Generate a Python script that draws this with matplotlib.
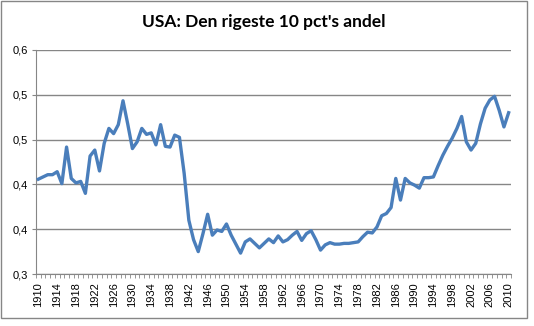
import numpy as np
import matplotlib.pyplot as plt
from matplotlib.patches import Rectangle

# andel af samlet indkomst til de rigeste 10 pct, USA 1910-2010
years = np.arange(1910, 2011)
share = [0.427, 0.430, 0.433, 0.433, 0.437, 0.421, 0.470, 0.428, 0.422, 0.424,
         0.408, 0.458, 0.466, 0.438, 0.475, 0.495, 0.488, 0.500, 0.532, 0.501,
         0.468, 0.477, 0.495, 0.487, 0.489, 0.473, 0.500, 0.471, 0.470, 0.486,
         0.483, 0.435, 0.372, 0.346, 0.330, 0.354, 0.380, 0.352, 0.359, 0.357,
         0.367, 0.352, 0.340, 0.328, 0.343, 0.347, 0.341, 0.335, 0.341, 0.347,
         0.342, 0.351, 0.343, 0.346, 0.352, 0.357, 0.345, 0.354, 0.358, 0.346,
         0.332, 0.339, 0.342, 0.340, 0.340, 0.341, 0.341, 0.342, 0.343, 0.350,
         0.356, 0.355, 0.363, 0.378, 0.381, 0.389, 0.428, 0.399, 0.428, 0.422,
         0.419, 0.415, 0.429, 0.429, 0.430, 0.445, 0.459, 0.471, 0.482, 0.495,
         0.511, 0.477, 0.466, 0.475, 0.501, 0.522, 0.533, 0.538, 0.519, 0.497,
         0.516]
title = "USA: Den rigeste 10 pct's andel"
yticks = [0.30, 0.36, 0.42, 0.48, 0.54, 0.60]
xlabel_years = np.arange(1910, 2011, 4)

W, H = 534, 326
fig = plt.figure(figsize=(W / 100, H / 100), dpi=100)
ax = fig.add_axes([36 / W, (H - 274) / H, (511 - 36) / W, (274 - 50) / H])

grey = '#868686'
ax.plot(years, share, color='#4A7EBB', lw=2.4, solid_joinstyle='round', zorder=3)

ax.set_xlim(years[0] - 0.5, years[-1] + 0.5)
ax.set_ylim(0.30, 0.60)
ax.set_yticks(yticks)
ax.set_yticklabels([('%.1f' % v).replace('.', ',') for v in yticks],
                   family='Liberation Sans', fontsize=8)
ax.yaxis.grid(True, color=grey, lw=1)
ax.set_axisbelow(True)
ax.tick_params(axis='y', length=3, color=grey, pad=3)

# årstal hvert fjerde år, små streger mellem kategorierne
ax.set_xticks(xlabel_years)
ax.set_xticklabels([str(y) for y in xlabel_years], rotation=90,
                   family='Liberation Sans', fontsize=8)
ax.set_xticks(np.arange(years[0] - 0.5, years[-1] + 1), minor=True)
ax.tick_params(axis='x', which='major', length=0, pad=6)
ax.tick_params(axis='x', which='minor', length=3, color=grey)

for s in ['top', 'right']:
    ax.spines[s].set_visible(False)
for s in ['left', 'bottom']:
    ax.spines[s].set_color(grey)

fig.text(264 / W, 1 - 22 / H, title, ha='center', va='center',
         family='Lato', fontweight='bold', fontsize=12.5)

# ramme om hele diagrammet
fig.patches.append(Rectangle((0.5 / W, (H - 318) / H), 526.5 / W, 317.5 / H,
                             transform=fig.transFigure, fill=False,
                             edgecolor=grey, lw=1))

fig.savefig('out.png', dpi=100)
